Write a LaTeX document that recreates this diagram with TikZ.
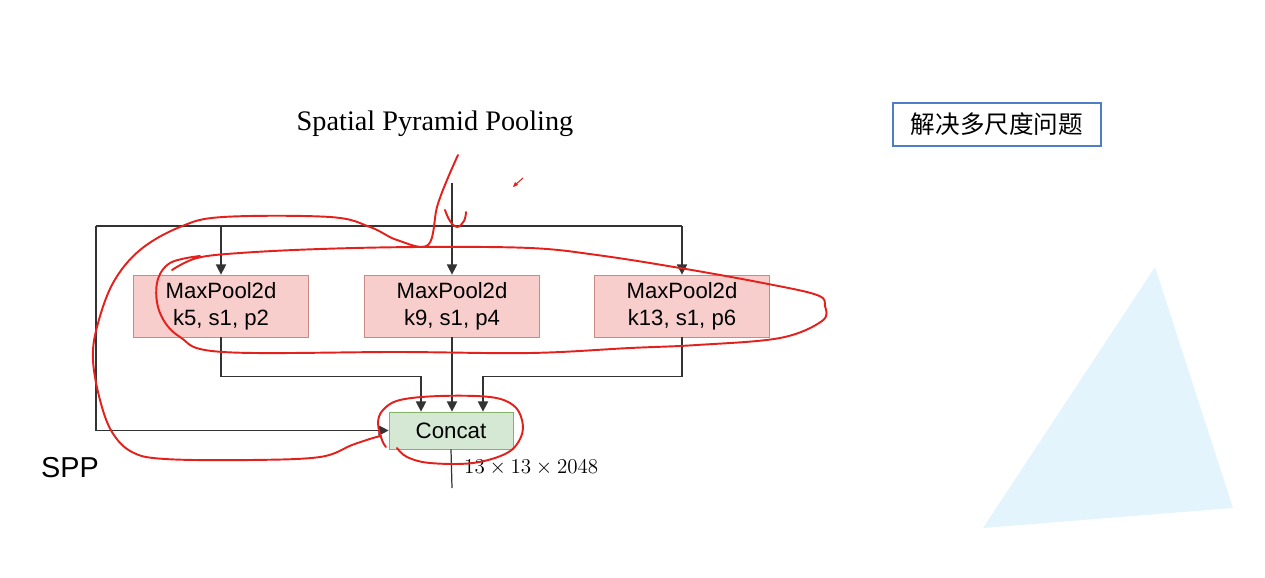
\documentclass[tikz,border=0pt]{standalone}
\usepackage{fontspec}
\setmainfont{Liberation Serif}
\setsansfont{Liberation Sans}
\newfontfamily\cjk{Noto Sans CJK SC}
\usetikzlibrary{arrows.meta,calc}

\definecolor{poolfill}{HTML}{F8CECC}
\definecolor{pooldraw}{HTML}{C98A86}
\definecolor{catfill}{HTML}{D5E8D4}
\definecolor{catdraw}{HTML}{82B366}
\definecolor{notedraw}{HTML}{4F7EC8}
\definecolor{pen}{HTML}{E3201B}
\definecolor{tri}{HTML}{E4F4FC}

\begin{document}
\begin{tikzpicture}[x=0.02cm,y=-0.02cm,
  line/.style={draw=black!80,line width=0.7pt},
  arr/.style={line,-{Triangle[length=5.8pt,width=5.8pt]}},
  pool/.style={draw=pooldraw,fill=poolfill,minimum width=3.5cm,minimum height=1.24cm,
    align=center,font=\sffamily\fontsize{12.6}{15.3}\selectfont,inner sep=0pt},
  cat/.style={draw=catdraw,fill=catfill,minimum width=2.48cm,minimum height=0.74cm,
    font=\sffamily\fontsize{12.7}{15}\selectfont,inner sep=0pt},
  note/.style={draw=notedraw,line width=0.8pt,minimum width=4.16cm,minimum height=0.86cm,
    font=\cjk\fontsize{14}{16}\selectfont,inner sep=0pt},
  scribble/.style={draw=pen,line width=1.1pt,line cap=round,line join=round}]

\useasboundingbox (0,0) rectangle (1265,578);

\fill[tri] (1155,267) -- (1233,508) -- (983,528) -- cycle;

\node (title) at (435,124) {\fontsize{16.1}{18}\selectfont Spatial Pyramid Pooling};
\node[note] (note) at (997,124.5) {解决多尺度问题};
\node[font=\sffamily\fontsize{16.4}{18}\selectfont] (spp) at (70,468) {SPP};

\node[pool] (p5) at (221,306) {MaxPool2d\\k5, s1, p2};
\node[pool] (p9) at (452,306) {MaxPool2d\\k9, s1, p4};
\node[pool] (p13) at (682,306) {MaxPool2d\\k13, s1, p6};
\node[cat] (concat) at (451,430.5) {Concat};
\node[anchor=west,font=\fontsize{11.8}{14}\selectfont] (dim) at (458,468) {$13\times13\times2048$};

\coordinate (in) at (452,183);
\coordinate (out) at (452,488);
\coordinate (tl) at (96,226);
\coordinate (tr) at (682,226);

\draw[arr] (in) -- (p9.north);
\draw[line] (tl) -- (tr);
\draw[arr] (p5.north |- tl) -- (p5.north);
\draw[arr] (tr) -- (p13.north);
\draw[arr] (tl) |- (concat.west);

\draw[arr] (p5.south) -- ++(0,39) -| ($(concat.north)+(-30,0)$);
\draw[arr] (p9.south) -- (p9.south |- concat.north);
\draw[arr] (p13.south) -- ++(0,39) -| ($(concat.north)+(32,0)$);
\draw[line] (concat.south) -- (out);

\draw[scribble] plot[smooth,tension=0.6] coordinates {(172,270) (197,258) (240,253) (320,249) (420,247)
  (530,248) (597,255) (680,268) (763,283) (817,295) (825,306) (822,321) (780,338) (697,345)
  (630,348) (530,353) (400,352) (223,352) (180,337) (160,313) (157,283) (170,263) (200,256)};

\draw[scribble] plot[smooth,tension=0.6] coordinates {(458,155) (447,180) (437,207) (428,245)
  (397,240) (370,227) (330,217) (223,217) (180,227) (140,250) (113,283) (97,327) (93,360)
  (100,400) (112,432) (132,452) (165,459) (250,460) (320,457) (352,445) (373,438) (381,436)};

\draw[scribble] plot[smooth,tension=0.7] coordinates {(445,210) (450,221) (457,227) (464,221) (466,212)};

\draw[scribble] plot[smooth,tension=0.6] coordinates {(397,448) (407,457) (430,463) (473,463)
  (507,453) (521,437) (522,420) (513,405) (490,397) (440,396) (400,400) (383,410) (378,423)
  (382,440) (386,447)};

\draw[pen,line width=0.6pt] (523,178) -- (514,186);
\fill[pen] (513,187) -- (518,185) -- (515,182) -- cycle;

\end{tikzpicture}
\end{document}
